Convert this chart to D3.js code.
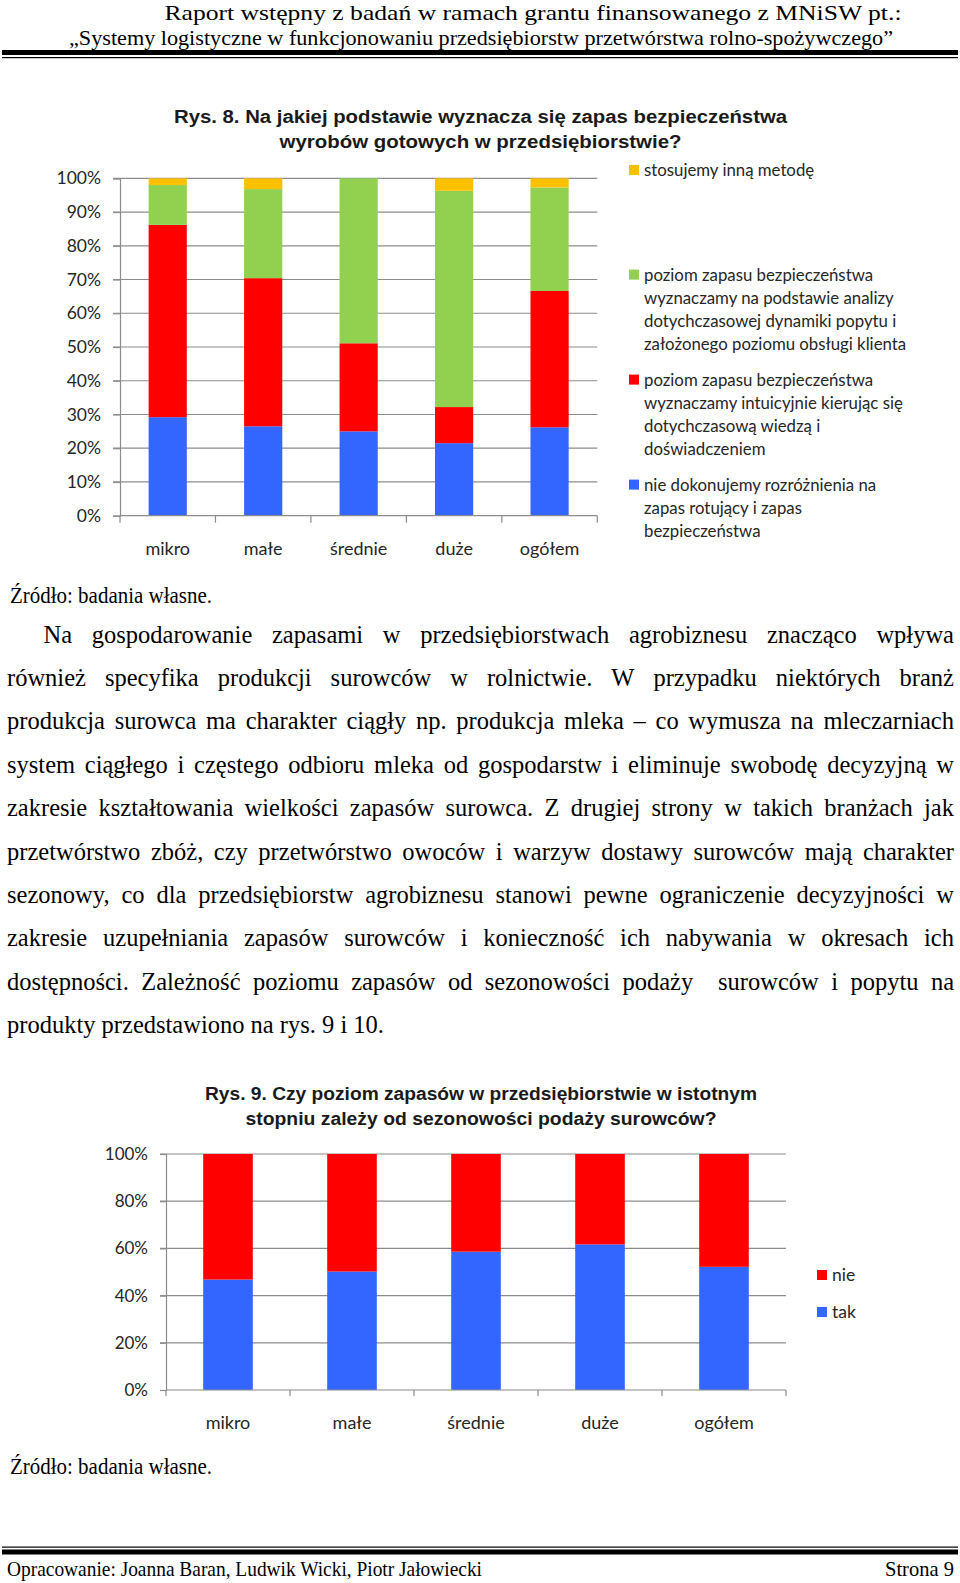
<!DOCTYPE html>
<html><head><meta charset="utf-8">
<script src="https://cdn.jsdelivr.net/npm/d3@7/dist/d3.min.js"></script>
<style>body{margin:0;background:#fff;} svg{display:block;}</style>
</head><body>
<svg id="page" width="960" height="1583"></svg>
<script>
// ---------------- DATA ----------------
const categories = ["mikro", "małe", "średnie", "duże", "ogółem"];

// Rys. 8 – share of answers (%), stacked bottom → top
const fig8Blue   = [29.2, 26.5, 25.0, 21.5, 26.2];  // nie dokonujemy rozróżnienia ...
const fig8Red    = [57.0, 43.9, 26.1, 10.7, 40.4];  // ... intuicyjnie ...
const fig8Green  = [11.8, 26.4, 48.9, 64.1, 30.7];  // ... na podstawie analizy ...
const fig8Yellow = [2.0, 3.2, 0.0, 3.7, 2.7];       // stosujemy inną metodę
const fig8Ticks  = [0, 10, 20, 30, 40, 50, 60, 70, 80, 90, 100];

// Rys. 9 – tak / nie (%)
const fig9Tak = [46.8, 50.2, 58.6, 61.7, 52.2];
const fig9Nie = [53.2, 49.8, 41.4, 38.3, 47.8];
const fig9Ticks = [0, 20, 40, 60, 80, 100];

const fig8Legend = [
  ["stosujemy inną metodę"],
  ["poziom zapasu bezpieczeństwa", "wyznaczamy na podstawie analizy", "dotychczasowej dynamiki popytu i", "założonego poziomu obsługi klienta"],
  ["poziom zapasu bezpieczeństwa", "wyznaczamy intuicyjnie kierując się", "dotychczasową wiedzą i", "doświadczeniem"],
  ["nie dokonujemy rozróżnienia na", "zapas rotujący i zapas", "bezpieczeństwa"]
];
const fig9Legend = ["nie", "tak"];

const fig8Title = ["Rys. 8. Na jakiej podstawie wyznacza się zapas bezpieczeństwa", "wyrobów gotowych w przedsiębiorstwie?"];
const fig9Title = ["Rys. 9. Czy poziom zapasów w przedsiębiorstwie w istotnym", "stopniu zależy od sezonowości podaży surowców?"];

const headerLines = ["Raport wstępny z badań w ramach grantu finansowanego z MNiSW pt.:",
  "„Systemy logistyczne w funkcjonowaniu przedsiębiorstw przetwórstwa rolno-spożywczego”"];
const footerLeft = "Opracowanie: Joanna Baran, Ludwik Wicki, Piotr Jałowiecki";
const footerRight = "Strona 9";
const sourceText = "Źródło: badania własne.";
const bodyLines = [
  "Na gospodarowanie zapasami w przedsiębiorstwach agrobiznesu znacząco wpływa",
  "również specyfika produkcji surowców w rolnictwie. W przypadku niektórych branż",
  "produkcja surowca ma charakter ciągły np. produkcja mleka – co wymusza na mleczarniach",
  "system ciągłego i częstego odbioru mleka od gospodarstw i eliminuje swobodę decyzyjną w",
  "zakresie kształtowania wielkości zapasów surowca. Z drugiej strony w takich branżach jak",
  "przetwórstwo zbóż, czy przetwórstwo owoców i warzyw dostawy surowców mają charakter",
  "sezonowy, co dla przedsiębiorstw agrobiznesu stanowi pewne ograniczenie decyzyjności w",
  "zakresie uzupełniania zapasów surowców i konieczność ich nabywania w okresach ich",
  "dostępności. Zależność poziomu zapasów od sezonowości podaży  surowców i popytu na",
  "produkty przedstawiono na rys. 9 i 10."
];

// ---------------- DRAWING ----------------
const svg = d3.select("#page");
const COL = {blue: "#3366FF", red: "#FF0000", green: "#92D050", yellow: "#FFC000", grid: "#8C8C8C", txt: "#262626"};
const CAL = "Lato, 'Open Sans', sans-serif";
const SERIF = "'Liberation Serif', 'Times New Roman', serif";

function fitText(x, y, str, size, family, width, opts = {}) {
  const t = svg.append("text").attr("x", x).attr("y", y).text(str)
    .attr("font-family", family).attr("font-size", size)
    .attr("fill", opts.fill || "#000")
    .attr("font-weight", opts.weight || "normal")
    .attr("text-anchor", opts.anchor || "start");
  if (width) t.attr("textLength", width).attr("lengthAdjust", "spacingAndGlyphs");
  return t;
}

// Header
fitText(533, 20, headerLines[0], 21.5, SERIF, 737, {anchor: "middle"});
fitText(481, 44.5, headerLines[1], 21.5, SERIF, 824, {anchor: "middle"});
svg.append("rect").attr("x", 2).attr("y", 50).attr("width", 956).attr("height", 5).attr("fill", "#000");
svg.append("rect").attr("x", 2).attr("y", 57).attr("width", 956).attr("height", 1.2).attr("fill", "#000");

// Footer
svg.append("rect").attr("x", 2).attr("y", 1546.5).attr("width", 956).attr("height", 1.2).attr("fill", "#000");
svg.append("rect").attr("x", 2).attr("y", 1549.5).attr("width", 956).attr("height", 5).attr("fill", "#000");
fitText(7, 1576, footerLeft, 21, SERIF, 475);
fitText(954, 1576, footerRight, 21, SERIF, 69, {anchor: "end"});

// Source lines
fitText(10, 602.5, sourceText, 22.5, SERIF, 202);
fitText(10, 1473.5, sourceText, 22.5, SERIF, 202);

// Body paragraph (justified)
function measure(str) {
  const m = svg.append("text").attr("font-family", SERIF).attr("font-size", 24.5).attr("xml:space", "preserve").text(str);
  const l = m.node().getComputedTextLength(); m.remove(); return l;
}
function justified(line, x0, x1, y, justify) {
  const words = line.split(" ");
  const t = svg.append("text").attr("y", y).attr("font-family", SERIF).attr("font-size", 24.5).attr("fill", "#000");
  const spans = words.map((w, i) => t.append("tspan").text(i < words.length - 1 ? w + " " : w));
  const widths = words.map(w => w.length ? measure(w) : 0);
  const sp = measure("a a") - measure("aa");
  const gap = justify ? (x1 - x0 - d3.sum(widths)) / (words.length - 1) : sp;
  let x = x0;
  spans.forEach((s, i) => { s.attr("x", x); x += widths[i] + gap; });
}
bodyLines.forEach((ln, i) => {
  const y = 642.5 + i * 43.4;
  const x0 = i === 0 ? 43.5 : 7;
  justified(ln, x0, 954, y, i < bodyLines.length - 1);
});

// ---------- generic stacked chart ----------
function stackedChart(cfg) {
  const g = svg.append("g");
  const x = d3.scaleBand().domain(categories).range([cfg.x0, cfg.x1]).padding(0);
  const y = d3.scaleLinear().domain([0, 100]).range([cfg.y0, cfg.y1]);
  const barW = x.bandwidth() * 0.4;

  // gridlines
  g.selectAll("line.grid").data(cfg.ticks.filter(d => d > 0)).join("line")
    .attr("x1", cfg.x0 - cfg.tick).attr("x2", cfg.x1)
    .attr("y1", d => y(d)).attr("y2", d => y(d))
    .attr("stroke", COL.grid).attr("stroke-width", 1.2);

  // bars
  const rows = categories.map((c, i) => {
    const o = {cat: c};
    cfg.series.forEach(s => o[s.key] = s.values[i]);
    return o;
  });
  const stack = d3.stack().keys(cfg.series.map(s => s.key))(rows);
  stack.forEach((layer, li) => {
    g.append("g").attr("fill", cfg.series[li].color)
      .selectAll("rect").data(layer).join("rect")
      .attr("x", d => x(d.data.cat) + (x.bandwidth() - barW) / 2)
      .attr("width", barW)
      .attr("y", d => y(d[1]))
      .attr("height", d => y(d[0]) - y(d[1]));
  });

  // y axis
  const ya = g.append("g").attr("transform", `translate(${cfg.x0},0)`)
    .call(d3.axisLeft(y).tickValues(cfg.ticks).tickFormat(d => d + "%").tickSize(cfg.tick).tickPadding(cfg.ypad));
  ya.select(".domain").attr("stroke", COL.grid).attr("stroke-width", 1.2);
  ya.selectAll(".tick line").attr("stroke", COL.grid).attr("stroke-width", 1.2);
  ya.selectAll(".tick text").attr("font-family", CAL).attr("font-size", cfg.fs).attr("fill", COL.txt);

  // x axis line and boundary ticks
  g.append("line").attr("x1", cfg.x0).attr("x2", cfg.x1).attr("y1", cfg.y0).attr("y2", cfg.y0)
    .attr("stroke", COL.grid).attr("stroke-width", 1.2);
  const bounds = d3.range(categories.length + 1).map(i => cfg.x0 + i * x.step());
  g.selectAll("line.bt").data(bounds).join("line")
    .attr("x1", d => d).attr("x2", d => d).attr("y1", cfg.y0).attr("y2", cfg.y0 + cfg.tick)
    .attr("stroke", COL.grid).attr("stroke-width", 1.2);
  const xa = g.append("g").attr("transform", `translate(0,${cfg.y0})`)
    .call(d3.axisBottom(x).tickSize(0).tickPadding(cfg.xpad));
  xa.select(".domain").remove();
  xa.selectAll(".tick text").attr("font-family", CAL).attr("font-size", cfg.xfs).attr("fill", COL.txt);

  // title
  cfg.title.forEach((t, i) => {
    fitText(cfg.titleX, cfg.titleY[i], t, 18, "'Liberation Sans', Arial, sans-serif", cfg.titleW[i], {anchor: "middle", weight: "bold", fill: "#1a1a1a"});
  });
  return {x, y};
}

stackedChart({
  x0: 120, x1: 597.3, y0: 515.7, y1: 178.3, tick: 7, ypad: 12, xpad: 27, fs: 17.5, xfs: 18,
  ticks: fig8Ticks,
  series: [
    {key: "blue", values: fig8Blue, color: COL.blue},
    {key: "red", values: fig8Red, color: COL.red},
    {key: "green", values: fig8Green, color: COL.green},
    {key: "yellow", values: fig8Yellow, color: COL.yellow}
  ],
  title: fig8Title, titleX: 480.5, titleY: [123, 147.5], titleW: [613, 402]
});

stackedChart({
  x0: 166, x1: 786, y0: 1390, y1: 1154, tick: 6, ypad: 12, xpad: 26, fs: 17, xfs: 18,
  ticks: fig9Ticks,
  series: [
    {key: "tak", values: fig9Tak, color: COL.blue},
    {key: "nie", values: fig9Nie, color: COL.red}
  ],
  title: fig9Title, titleX: 481, titleY: [1100, 1124.5], titleW: [552, 471]
});

// Legend Rys. 8
const leg8Colors = [COL.yellow, COL.green, COL.red, COL.blue];
const leg8Y = [170, 274.6, 379.6, 484.6];
fig8Legend.forEach((lines, i) => {
  svg.append("rect").attr("x", 629).attr("y", leg8Y[i] - 5).attr("width", 10).attr("height", 10).attr("fill", leg8Colors[i]);
  lines.forEach((ln, j) => {
    svg.append("text").attr("x", 644).attr("y", leg8Y[i] + j * 23.2 + 6).text(ln)
      .attr("font-family", CAL).attr("font-size", 16.8).attr("fill", COL.txt);
  });
});

// Legend Rys. 9
const leg9Colors = [COL.red, COL.blue];
const leg9Y = [1275, 1312];
fig9Legend.forEach((t, i) => {
  svg.append("rect").attr("x", 817).attr("y", leg9Y[i] - 5).attr("width", 10).attr("height", 10).attr("fill", leg9Colors[i]);
  svg.append("text").attr("x", 832).attr("y", leg9Y[i] + 6).text(t)
    .attr("font-family", CAL).attr("font-size", 17.5).attr("fill", COL.txt);
});
</script>
</body></html>
